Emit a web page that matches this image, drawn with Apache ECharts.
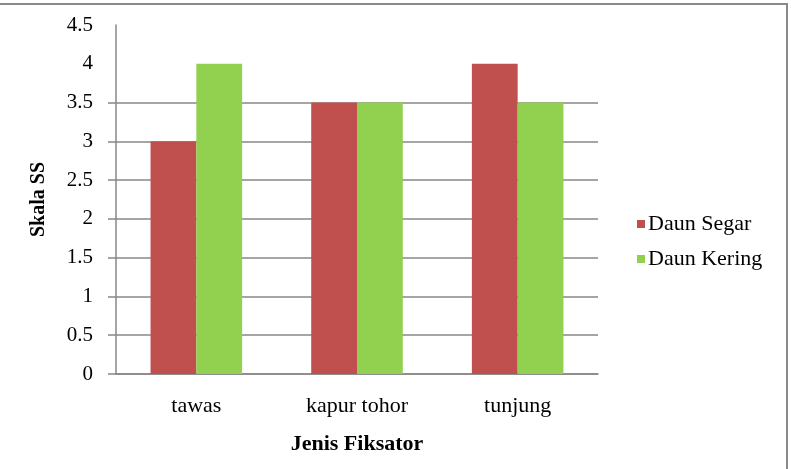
<!DOCTYPE html>
<html>
<head>
<meta charset="utf-8">
<script src="https://cdn.jsdelivr.net/npm/echarts@6/dist/echarts.min.js"></script>
<style>
html,body{margin:0;padding:0;background:#fff;}
#chart{position:absolute;left:0;top:0;width:791px;height:469px;}
#frame{position:absolute;left:-10px;top:3px;width:798px;height:500px;border-top:2px solid #8a8a8a;border-right:2px solid #8a8a8a;pointer-events:none;box-sizing:border-box;}
</style>
</head>
<body>
<div id="chart"></div>
<div id="frame"></div>
<script>
const categories = ['tawas', 'kapur tohor', 'tunjung'];
const seriesNames = ['Daun Segar', 'Daun Kering'];
const daunSegar = [3, 3.5, 4];
const daunKering = [4, 3.5, 3.5];
const yTicksWithLines = [0, 0.5, 1, 1.5, 2, 2.5, 3, 3.5];
const yMin = 0, yMax = 4.5, yStep = 0.5;

const gridColor = '#878787';
const font = 'Liberation Serif';
const nLines = Math.round((yMax - yMin) / yStep) + 1;
const splitColors = [];
for (let i = 0; i < nLines; i++) {
  const v = yMin + i * yStep;
  splitColors.push(yTicksWithLines.indexOf(v) >= 0 ? gridColor : 'rgba(0,0,0,0)');
}

const chart = echarts.init(document.getElementById('chart'), null, {renderer: 'canvas'});
chart.setOption({
  backgroundColor: '#fff',
  animation: false,
  grid: {left: 116, right: 193, top: 25, bottom: 95, containLabel: false},
  legend: {
    orient: 'vertical',
    left: 632, top: 208,
    itemWidth: 8, itemHeight: 8, itemGap: 13,
    icon: 'rect',
    textStyle: {fontFamily: font, fontSize: 22, color: '#000', padding: [0,0,0,-2]},
    data: seriesNames
  },
  xAxis: {
    type: 'category',
    data: categories,
    axisLine: {lineStyle: {color: gridColor, width: 1.5}},
    axisTick: {show: false},
    axisLabel: {fontFamily: font, fontSize: 22, color: '#000', margin: 21},
    name: 'Jenis Fiksator',
    nameLocation: 'middle',
    nameGap: 59,
    nameTextStyle: {fontFamily: font, fontSize: 22, fontWeight: 'bold', color: '#000'}
  },
  yAxis: {
    type: 'value',
    min: yMin, max: yMax, interval: yStep,
    axisLine: {show: true, lineStyle: {color: gridColor, width: 1.5}},
    axisTick: {show: true, length: 8, lineStyle: {color: gridColor, width: 1.5}, customValues: yTicksWithLines},
    splitLine: {show: true, lineStyle: {color: splitColors, width: 1.5}},
    axisLabel: {fontFamily: font, fontSize: 21, color: '#000', margin: 23},
    name: 'Skala SS',
    nameLocation: 'middle',
    nameGap: 67,
    nameTextStyle: {fontFamily: font, fontSize: 20, fontWeight: 'bold', color: '#000'}
  },
  series: [
    {name: seriesNames[0], type: 'bar', data: daunSegar, barGap: '0%', barCategoryGap: '43%',
     itemStyle: {color: '#C0504D'}},
    {name: seriesNames[1], type: 'bar', data: daunKering, barGap: '0%', barCategoryGap: '43%',
     itemStyle: {color: '#92D050'}}
  ]
});
</script>
</body>
</html>
